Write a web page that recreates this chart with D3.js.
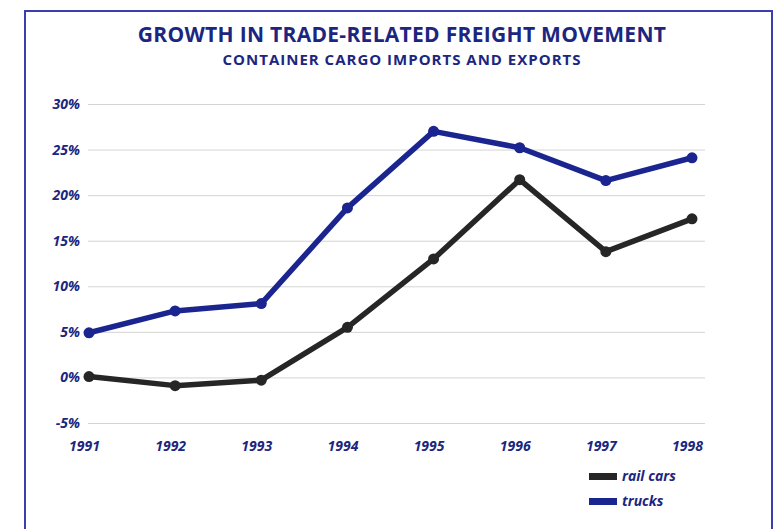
<!DOCTYPE html>
<html>
  <head>
    <title>Freight growth</title>
    <script type="text/javascript" src="https://cdn.jsdelivr.net/npm/d3@7"></script>
    <style type="text/css">
      body { margin: 0; background: #fff; }
      text { font-family: "Open Sans", Lato, sans-serif; fill: #1c2680; }
    </style>
  </head>
  <body>
  <script type="text/javascript">

  var years = [1991, 1992, 1993, 1994, 1995, 1996, 1997, 1998]
  var railCars = [0.1, -0.9, -0.3, 5.5, 13.0, 21.7, 13.8, 17.4]
  var trucks = [4.9, 7.3, 8.1, 18.6, 27.0, 25.2, 21.6, 24.1]
  var yTicks = [-5, 0, 5, 10, 15, 20, 25, 30]

  var W = 778, H = 529

  var svg = d3.select('body')
    .append('svg')
      .attr('width', W)
      .attr('height', H)

  // frame, open at the bottom
  svg.append('path')
    .attr('d', 'M25,529 V11 H772 V529')
    .attr('fill', 'none')
    .attr('stroke', '#3b3fae')
    .attr('stroke-width', 2)

  svg.append('text')
    .attr('x', 402).attr('y', 42)
    .attr('text-anchor', 'middle')
    .style('font-size', '21px').style('font-weight', 'bold')
    .style('letter-spacing', '0.3px')
    .text('GROWTH IN TRADE-RELATED FREIGHT MOVEMENT')

  svg.append('text')
    .attr('x', 402).attr('y', 65)
    .attr('text-anchor', 'middle')
    .style('font-size', '15px').style('font-weight', 'bold')
    .style('letter-spacing', '1px')
    .text('CONTAINER CARGO IMPORTS AND EXPORTS')

  var x = d3.scalePoint().domain(years).range([89, 692])
  var y = d3.scaleLinear().domain([-5, 30]).range([423, 104])

  // gridlines
  svg.append('g')
    .attr('transform', 'translate(88,0)')
    .call(d3.axisLeft(y).tickValues(yTicks).tickSize(-617).tickFormat(''))
    .call(function(g) {
      g.select('.domain').remove()
      g.selectAll('line').attr('stroke', '#d4d4d4').attr('stroke-width', 1)
    })

  // y labels
  svg.append('g')
    .attr('transform', 'translate(80,0)')
    .call(d3.axisLeft(y).tickValues(yTicks).tickSize(0).tickPadding(0)
      .tickFormat(function(d) { return d + '%' }))
    .call(function(g) {
      g.select('.domain').remove()
      g.selectAll('text')
        .style('font-size', '14px').style('font-weight', 'bold')
        .style('font-style', 'italic')
        .attr('fill', '#1c2680')
    })

  // x labels
  svg.append('g')
    .attr('transform', 'translate(-5,441)')
    .call(d3.axisBottom(x).tickSize(0).tickPadding(0))
    .call(function(g) {
      g.select('.domain').remove()
      g.selectAll('text')
        .style('font-size', '14px').style('font-weight', 'bold')
        .style('font-style', 'italic')
        .attr('fill', '#1c2680')
    })

  var series = [
    { name: 'rail cars', values: railCars, color: '#262626' },
    { name: 'trucks', values: trucks, color: '#1b2590' }
  ]

  var line = d3.line()
    .x(function(d, i) { return x(years[i]) })
    .y(function(d) { return y(d) })

  series.forEach(function(s) {
    svg.append('path')
      .attr('d', line(s.values))
      .attr('fill', 'none')
      .attr('stroke', s.color)
      .attr('stroke-width', 5.5)
      .attr('stroke-linejoin', 'round')
    svg.selectAll(null).data(s.values)
      .enter().append('circle')
        .attr('cx', function(d, i) { return x(years[i]) })
        .attr('cy', function(d) { return y(d) })
        .attr('r', 5.5)
        .attr('fill', s.color)
  })

  // legend
  var legend = svg.selectAll('g.legend').data(series)
    .enter().append('g')
      .attr('class', 'legend')
      .attr('transform', function(d, i) { return 'translate(589,' + (476 + i * 25) + ')' })
  legend.append('rect')
    .attr('x', 0).attr('y', -3)
    .attr('width', 28).attr('height', 7)
    .attr('fill', function(d) { return d.color })
  legend.append('text')
    .attr('x', 33).attr('y', 5)
    .style('font-size', '14px').style('font-weight', 'bold')
    .style('font-style', 'italic')
    .text(function(d) { return d.name })

  </script>
  </body>
</html>
